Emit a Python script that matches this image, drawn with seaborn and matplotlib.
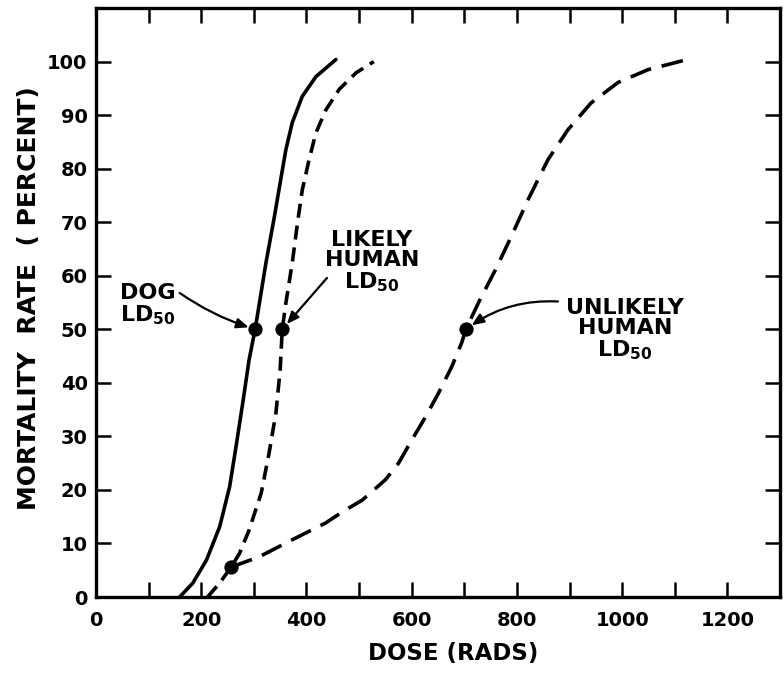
import numpy as np
import pandas as pd
import matplotlib
matplotlib.use("Agg")
import matplotlib.pyplot as plt
import seaborn as sns

# ---- data ----
dog_dose = [159, 184, 210, 235, 254, 266, 279, 291, 303, 323, 339, 352, 361, 373, 392, 418, 456]
dog_rate = [0, 2.6, 6.9, 13.1, 20.6, 28, 36.3, 44.3, 50.3, 62.4, 71, 78.5, 83.6, 88.6, 93.5, 97.2, 100.4]

likely_dose = [212, 235, 257, 273, 291, 314, 329, 342, 350, 354, 361, 373, 383, 392, 405, 418, 437, 462, 494, 528]
likely_rate = [0, 2.6, 5.6, 8.2, 12.5, 19.4, 26.9, 34.4, 42.4, 50, 55, 62.4, 69.9, 76, 81.7, 86.7, 91, 94.8, 97.9, 100]

unlikely_dose = [257, 310, 373, 436, 468, 506, 550, 575, 600, 626, 651, 676, 695, 703,
                 727, 759, 789, 821, 859, 897, 941, 992, 1049, 1124]
unlikely_rate = [5.6, 7.5, 10.7, 13.8, 15.9, 18.1, 21.9, 25, 29.3, 33.6, 38.1, 43, 47.5, 50,
                 55, 61.1, 67.3, 74.2, 81.7, 87.3, 92.3, 96.1, 98.5, 100.4]

ld_dose = [303, 354, 703, 257]
ld_rate = [50, 50, 50, 5.6]

x_ticks = [0, 200, 400, 600, 800, 1000, 1200]
y_ticks = [0, 10, 20, 30, 40, 50, 60, 70, 80, 90, 100]

df = pd.DataFrame({
    "dose": dog_dose + likely_dose + unlikely_dose,
    "rate": dog_rate + likely_rate + unlikely_rate,
    "curve": (["dog"] * len(dog_dose) + ["likely"] * len(likely_dose)
              + ["unlikely"] * len(unlikely_dose)),
})

sns.set_theme(style="ticks")
plt.rcParams["font.family"] = ["DejaVu Sans"]
plt.rcParams["font.weight"] = "bold"
plt.rcParams["mathtext.fontset"] = "dejavusans"
plt.rcParams["mathtext.default"] = "bf"
for k in ["text.color", "axes.labelcolor", "xtick.color", "ytick.color", "axes.edgecolor"]:
    plt.rcParams[k] = "black"

fig = plt.figure(figsize=(7.84, 6.74), dpi=100)
ax = fig.add_axes([0.1224, 0.1142, 0.8726, 0.8738])

lw = 2.6
sns.lineplot(data=df, x="dose", y="rate", hue="curve", style="curve",
             palette={"dog": "black", "likely": "black", "unlikely": "black"},
             dashes={"dog": "", "likely": (3.9, 2.2), "unlikely": (6.1, 3.0)},
             estimator=None, sort=False, legend=False, linewidth=lw, ax=ax)

sns.scatterplot(x=ld_dose, y=ld_rate, color="black", s=90, zorder=5,
                edgecolor="black", ax=ax)

ax.set_xlim(0, 1300)
ax.set_ylim(0, 110)
ax.set_xticks(x_ticks)
ax.set_xticks(np.arange(0, 1301, 100), minor=True)
ax.set_yticks(y_ticks)
ax.set_xticklabels([str(t) for t in x_ticks])
ax.set_yticklabels([str(t) for t in y_ticks])

ax.tick_params(axis="both", which="major", direction="in", length=11, width=1.8,
               top=True, right=True, labelsize=14, colors="black")
ax.tick_params(axis="x", which="major", pad=10)
ax.tick_params(axis="y", which="major", pad=6)
ax.tick_params(axis="x", which="minor", direction="in", length=11, width=1.8,
               top=True, bottom=True)
for lab in ax.get_xticklabels() + ax.get_yticklabels():
    lab.set_fontweight("bold")
for s in ax.spines.values():
    s.set_linewidth(2.4)
    s.set_color("black")

ax.set_xlabel("DOSE (RADS)", fontsize=16.5, fontweight="bold", va="center")
ax.set_ylabel("MORTALITY  RATE  ( PERCENT)", fontsize=18, fontweight="bold", va="center")
ax.xaxis.set_label_coords((453 - 96) / 684, -(653 - 597) / 589)
ax.yaxis.set_label_coords((29 - 96) / 684, (597 - 298) / 589)

fs = 16
txt = dict(ha="center", va="center", fontsize=fs, fontweight="bold",
           linespacing=1.0, multialignment="center")
ax.text(98, 54.6, "DOG\nLD$_{50}$", **txt)
ax.text(524, 62.6, "LIKELY\nHUMAN\nLD$_{50}$", **txt)
ax.text(1005, 49.9, "UNLIKELY\nHUMAN\nLD$_{50}$", **txt)

arrow = dict(arrowstyle="-|>,head_length=0.6,head_width=0.25", color="black", lw=1.6,
             shrinkA=0, shrinkB=5)
ax.annotate("", xy=(303, 50), xytext=(159, 56.8),
            arrowprops=dict(arrow, connectionstyle="arc3,rad=0.08"))
ax.annotate("", xy=(354, 50), xytext=(439, 59.6),
            arrowprops=dict(arrow, connectionstyle="arc3,rad=0.0"))
ax.annotate("", xy=(703, 50), xytext=(878, 55.2),
            arrowprops=dict(arrow, connectionstyle="arc3,rad=0.18"))

fig.savefig("out.png", dpi=100)
